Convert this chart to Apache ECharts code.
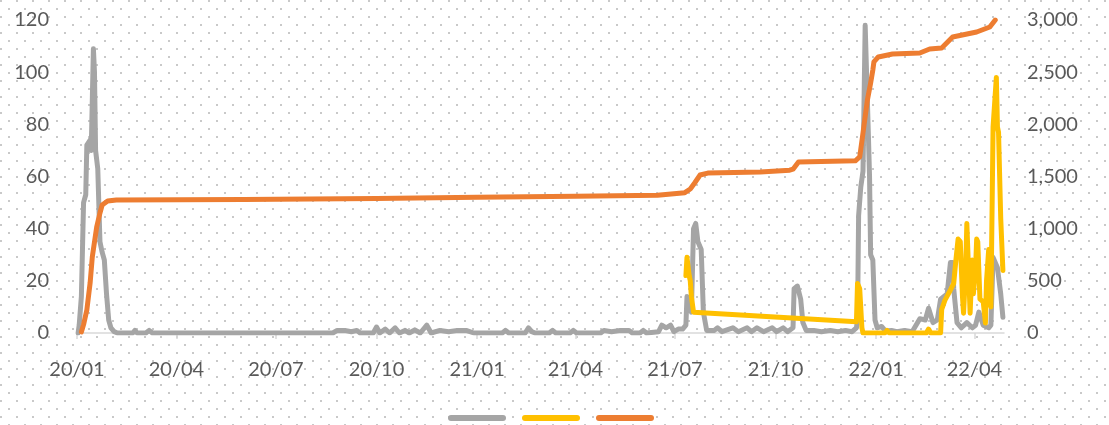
<!DOCTYPE html>
<html lang="zh-CN" style="height: 100%">

<head>
  <meta charset="utf-8">
</head>

<body style="height: 100%; margin: 0">
  <div id="container" style="width: 1109px; height: 425px"></div>

  <script type="text/javascript" src="https://fastly.jsdelivr.net/npm/echarts@6.0.0/dist/echarts.min.js"></script>

  <script type="text/javascript">
    // quarterly ticks on the date axis
    var tickDates = ['2020-01-01', '2020-04-01', '2020-07-01', '2020-10-01', '2021-01-01',
      '2021-04-01', '2021-07-01', '2021-10-01', '2022-01-01', '2022-04-01'];

    // grey line, left axis
    var grayData = [
      ['2020-01-02', 0], ['2020-01-03', 3], ['2020-01-05', 14], ['2020-01-07', 50], ['2020-01-09', 53],
      ['2020-01-10', 72], ['2020-01-13', 74], ['2020-01-14', 70], ['2020-01-16', 109], ['2020-01-17', 100],
      ['2020-01-18', 70], ['2020-01-20', 63], ['2020-01-22', 35], ['2020-01-24', 31], ['2020-01-26', 28],
      ['2020-01-28', 15], ['2020-01-30', 5], ['2020-02-01', 2], ['2020-02-04', 0.5], ['2020-02-07', 0],
      ['2020-02-21', 0], ['2020-02-23', 1], ['2020-02-25', 0], ['2020-03-04', 0], ['2020-03-07', 1], ['2020-03-10', 0],
      ['2020-08-22', 0], ['2020-08-26', 1], ['2020-09-02', 1], ['2020-09-08', 0.5], ['2020-09-13', 1], ['2020-09-16', 0],
      ['2020-09-28', 0], ['2020-10-01', 2.3], ['2020-10-04', 0], ['2020-10-09', 1.5], ['2020-10-13', 0],
      ['2020-10-18', 2], ['2020-10-22', 0], ['2020-10-27', 1], ['2020-10-31', 0], ['2020-11-05', 1.2],
      ['2020-11-10', 0], ['2020-11-16', 3], ['2020-11-20', 0], ['2020-11-28', 1], ['2020-12-06', 0.5],
      ['2020-12-14', 1], ['2020-12-22', 1], ['2020-12-29', 0],
      ['2021-01-24', 0], ['2021-01-27', 1], ['2021-01-30', 0], ['2021-02-14', 0], ['2021-02-17', 2],
      ['2021-02-20', 0.5], ['2021-02-23', 0], ['2021-03-08', 0], ['2021-03-11', 1], ['2021-03-14', 0],
      ['2021-03-27', 0], ['2021-03-30', 1], ['2021-04-02', 0], ['2021-04-24', 0], ['2021-04-27', 1],
      ['2021-05-04', 0.5], ['2021-05-12', 1], ['2021-05-20', 1], ['2021-05-23', 0], ['2021-05-30', 0],
      ['2021-06-02', 1], ['2021-06-05', 0], ['2021-06-16', 0.5], ['2021-06-19', 3], ['2021-06-23', 2],
      ['2021-06-27', 3], ['2021-06-30', 0.5], ['2021-07-04', 1.5], ['2021-07-08', 1.5], ['2021-07-11', 3],
      ['2021-07-12', 14], ['2021-07-14', 12], ['2021-07-16', 8], ['2021-07-18', 40], ['2021-07-20', 42],
      ['2021-07-22', 35], ['2021-07-25', 32], ['2021-07-27', 8], ['2021-07-30', 1],
      ['2021-08-06', 1], ['2021-08-09', 2], ['2021-08-13', 0.5], ['2021-08-23', 2], ['2021-08-28', 0.5],
      ['2021-09-05', 2], ['2021-09-09', 0.5], ['2021-09-14', 2], ['2021-09-20', 0.5], ['2021-09-28', 2],
      ['2021-10-02', 0.5], ['2021-10-08', 2], ['2021-10-12', 0.5], ['2021-10-17', 2], ['2021-10-18', 17],
      ['2021-10-21', 18], ['2021-10-24', 13], ['2021-10-26', 4], ['2021-10-29', 1], ['2021-11-05', 1],
      ['2021-11-12', 0.5], ['2021-11-20', 1], ['2021-11-27', 0.5], ['2021-12-04', 1], ['2021-12-10', 0.5],
      ['2021-12-14', 2], ['2021-12-15', 5], ['2021-12-16', 45], ['2021-12-18', 56], ['2021-12-20', 62],
      ['2021-12-22', 118], ['2021-12-23', 118], ['2021-12-25', 75], ['2021-12-26', 60], ['2021-12-27', 30],
      ['2021-12-29', 28], ['2021-12-31', 5], ['2022-01-02', 2], ['2022-01-06', 2.5], ['2022-01-10', 0.5],
      ['2022-01-15', 1], ['2022-01-20', 0.5], ['2022-01-27', 1], ['2022-02-03', 0.5], ['2022-02-10', 5.5],
      ['2022-02-15', 5], ['2022-02-18', 9.5], ['2022-02-22', 4], ['2022-02-26', 5], ['2022-03-01', 13],
      ['2022-03-07', 15], ['2022-03-10', 27], ['2022-03-12', 27], ['2022-03-13', 17], ['2022-03-16', 4],
      ['2022-03-20', 2], ['2022-03-25', 4], ['2022-03-30', 2], ['2022-04-02', 3], ['2022-04-05', 8],
      ['2022-04-09', 3], ['2022-04-14', 2], ['2022-04-16', 3], ['2022-04-18', 29], ['2022-04-22', 25],
      ['2022-04-25', 15], ['2022-04-27', 6]
    ];

    // yellow line, left axis
    var yellowData = [
      ['2021-07-11', 22], ['2021-07-12', 29], ['2021-07-14', 22], ['2021-07-15', 20], ['2021-07-16', 14],
      ['2021-07-18', 8], ['2021-12-14', 4.3], ['2021-12-15', 19], ['2021-12-17', 17], ['2021-12-19', 2],
      ['2021-12-20', 0], ['2022-01-09', 0], ['2022-01-11', 1], ['2022-01-13', 0], ['2022-02-16', 0],
      ['2022-02-18', 1.5], ['2022-02-20', 0], ['2022-03-01', 0], ['2022-03-02', 9], ['2022-03-05', 12.6],
      ['2022-03-10', 16.5], ['2022-03-13', 19], ['2022-03-15', 28], ['2022-03-17', 36], ['2022-03-19', 35],
      ['2022-03-21', 14], ['2022-03-22', 7.6], ['2022-03-24', 25], ['2022-03-25', 42], ['2022-03-26', 42],
      ['2022-03-28', 7.6], ['2022-03-30', 28], ['2022-03-31', 15], ['2022-04-02', 25], ['2022-04-03', 36],
      ['2022-04-04', 35], ['2022-04-06', 13], ['2022-04-09', 12], ['2022-04-11', 3.8], ['2022-04-12', 20],
      ['2022-04-14', 32], ['2022-04-16', 10], ['2022-04-18', 79], ['2022-04-21', 98], ['2022-04-22', 79],
      ['2022-04-23', 77], ['2022-04-25', 44], ['2022-04-27', 24]
    ];

    // orange line, right axis (cumulative)
    var orangeData = [
      ['2020-01-05', 10], ['2020-01-07', 80], ['2020-01-10', 220], ['2020-01-13', 480], ['2020-01-15', 730],
      ['2020-01-19', 1016], ['2020-01-22', 1150], ['2020-01-24', 1227], ['2020-01-29', 1265], ['2020-02-06', 1275],
      ['2020-06-01', 1280], ['2020-10-01', 1290], ['2021-01-01', 1300], ['2021-04-01', 1310], ['2021-06-15', 1320],
      ['2021-07-10', 1345], ['2021-07-15', 1380], ['2021-07-19', 1438], ['2021-07-24', 1514], ['2021-07-31', 1533],
      ['2021-09-17', 1543], ['2021-10-14', 1560], ['2021-10-17', 1570], ['2021-10-22', 1640], ['2021-12-13', 1650],
      ['2021-12-17', 1687], ['2021-12-20', 1917], ['2021-12-24', 2230], ['2021-12-27', 2396], ['2021-12-29', 2520],
      ['2021-12-30', 2598], ['2022-01-03', 2646], ['2022-01-16', 2674], ['2022-02-10', 2684], ['2022-02-19', 2722],
      ['2022-03-02', 2732], ['2022-03-12', 2837], ['2022-04-03', 2885], ['2022-04-15', 2933], ['2022-04-20', 3000]
    ];

    var seriesNames = ['系列1', '系列2', '系列3'];

    var dom = document.getElementById('container');
    var myChart = echarts.init(dom, null, { renderer: 'canvas' });

    // dotted paper background
    var tile = document.createElement('canvas');
    tile.width = 16;
    tile.height = 16;
    var tctx = tile.getContext('2d');
    tctx.fillStyle = '#c9c9c9';
    tctx.fillRect(0, 0, 2, 2);
    tctx.fillRect(8, 8, 2, 2);

    function toTime(d) { return +echarts.time.parse(d); }
    function toPoints(arr) { return arr.map(function (p) { return [toTime(p[0]), p[1]]; }); }

    var tickTimes = tickDates.map(toTime);
    var labelFont = { color: '#595959', fontSize: 20, fontFamily: 'Lato' };

    function lineSeries(name, data, color, yIndex) {
      return {
        name: name,
        type: 'line',
        yAxisIndex: yIndex,
        data: toPoints(data),
        symbol: 'none',
        lineStyle: { color: color, width: 5, cap: 'round', join: 'round' },
        itemStyle: { color: color }
      };
    }

    var option = {
      animation: false,
      backgroundColor: { image: tile, repeat: 'repeat' },
      grid: { left: 77, right: 105, top: 20, bottom: 92, outerBoundsMode: 'none' },
      legend: {
        left: 443,
        top: 406,
        itemWidth: 52,
        itemHeight: 14,
        itemGap: 16,
        itemStyle: { opacity: 0 },
        lineStyle: { width: 6, cap: 'round' },
        formatter: function () { return ''; },
        data: seriesNames
      },
      xAxis: {
        // dates held as timestamps on a plain value axis so the quarter ticks can be fixed
        type: 'value',
        min: toTime('2020-01-01'),
        max: toTime('2022-04-28'),
        axisLine: { lineStyle: { color: '#d9d9d9', width: 1.5 } },
        axisTick: { show: true, customValues: tickTimes, length: 6, lineStyle: { color: '#d9d9d9', width: 1.5 } },
        axisLabel: Object.assign({
          customValues: tickTimes,
          margin: 27,
          formatter: function (v) { return echarts.time.format(v, '{yy}/{MM}', false); }
        }, labelFont),
        splitLine: { show: false }
      },
      yAxis: [
        {
          type: 'value', min: 0, max: 120, interval: 20,
          axisLine: { show: false }, axisTick: { show: false }, splitLine: { show: false },
          axisLabel: Object.assign({ margin: 28 }, labelFont)
        },
        {
          type: 'value', min: 0, max: 3000, interval: 500,
          axisLine: { show: false }, axisTick: { show: false }, splitLine: { show: false },
          axisLabel: Object.assign({
            margin: 23,
            formatter: function (v) { return v.toLocaleString('en-US'); }
          }, labelFont)
        }
      ],
      series: [
        lineSeries(seriesNames[0], grayData, '#a5a5a5', 0),
        lineSeries(seriesNames[1], yellowData, '#ffc000', 0),
        lineSeries(seriesNames[2], orangeData, '#ed7d31', 1)
      ]
    };

    myChart.setOption(option);
    window.addEventListener('resize', myChart.resize);
  </script>
</body>

</html>
